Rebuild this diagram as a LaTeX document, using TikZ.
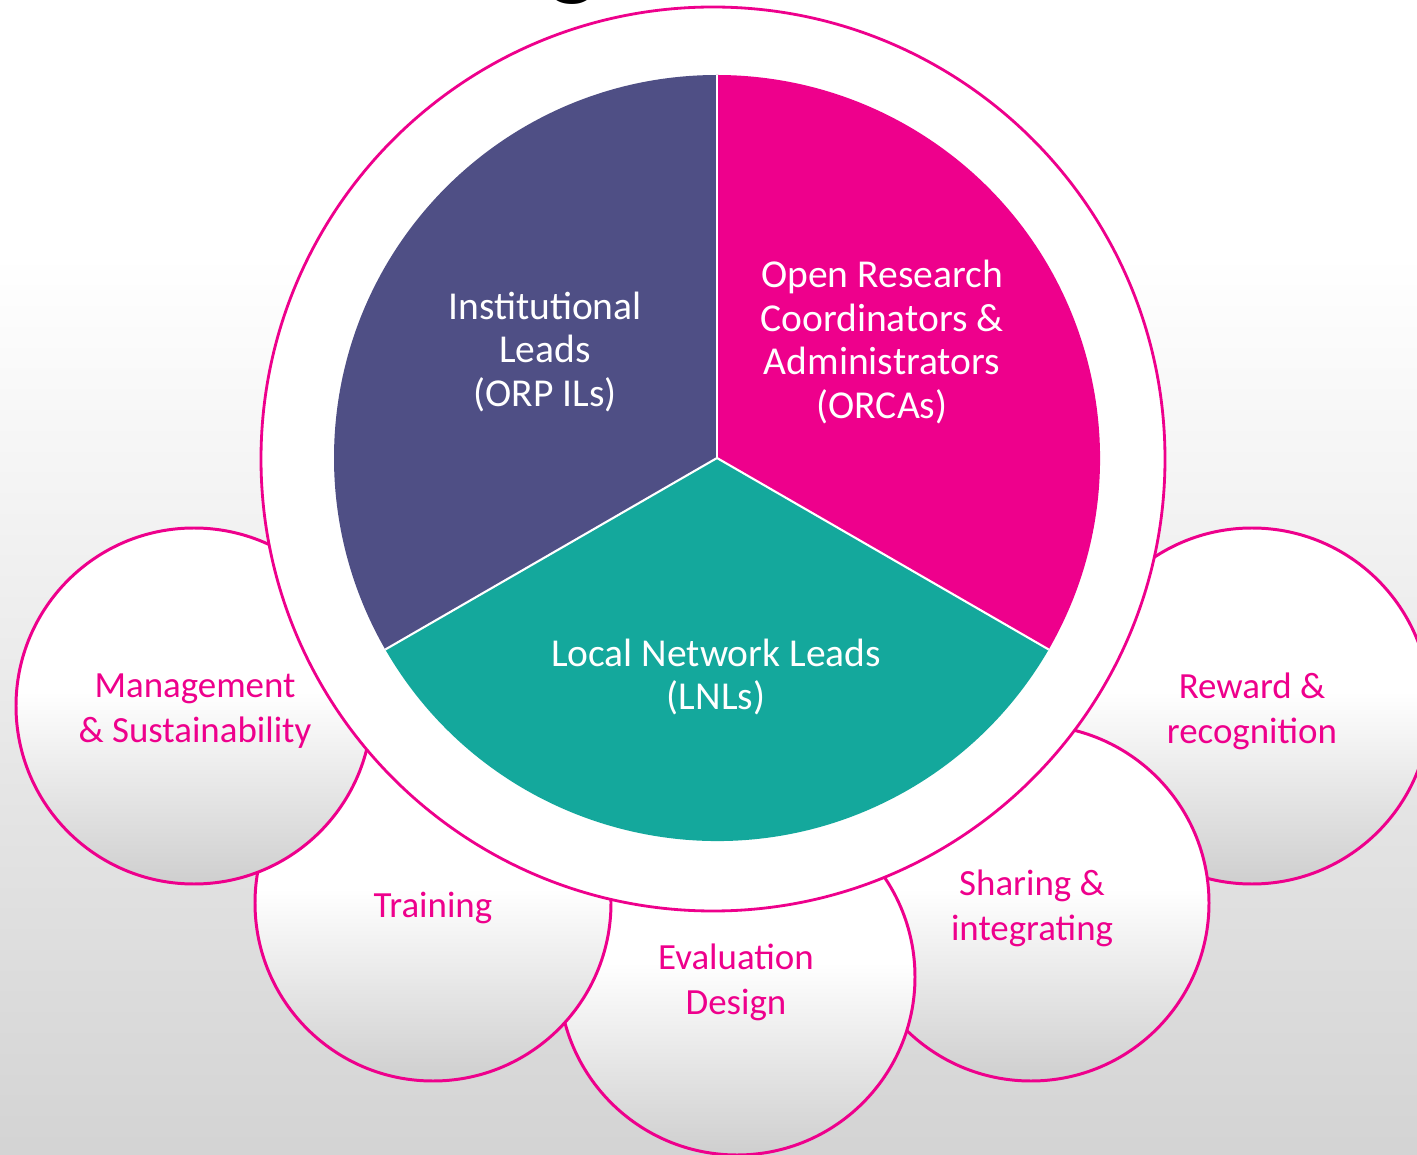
\documentclass[tikz,border=0pt]{standalone}
\usepackage{fontspec}
\setmainfont{Carlito}
\definecolor{orpink}{HTML}{EE008C}
\definecolor{orpurple}{HTML}{4F4F85}
\definecolor{orteal}{HTML}{14A89C}
\pgfdeclareverticalshading{backdrop}{100bp}{color(0bp)=(black!17); color(25bp)=(black!17); color(64bp)=(white); color(100bp)=(white)}
\pgfdeclareverticalshading{bubbleshade}{100bp}{color(0bp)=(black!19); color(25bp)=(black!19); color(52bp)=(white); color(100bp)=(white)}
\tikzset{
  bubble/.style={draw=orpink, line width=1.7pt, shading=bubbleshade},
  ring/.style={draw=orpink, line width=1.6pt, fill=white},
  divider/.style={draw=white, line width=1.2pt},
  pielabel/.style={text=white, align=center, font=\fontsize{22.5}{25}\selectfont},
  bubblelabel/.style={text=orpink, align=center, font=\fontsize{21}{25.5}\selectfont}
}
\begin{document}
\begin{tikzpicture}[x=0.02cm,y=0.02cm]
\useasboundingbox (0,0) rectangle (1417,1154);
\clip (0,0) rectangle (1417,1154);
\shade[shading=backdrop] (0,0) rectangle (1417,1154);
% title, cut off at the top
\node[anchor=base, font=\bfseries\fontsize{57}{60}\selectfont] (title) at (573,1166) {g};

% side circles, back to front
\foreach \cx/\cy in {1252/448, 1031/251, 737/177, 433/251, 194/448}{
  \path[bubble] (\cx,\cy) circle (178);
}

% outer ring
\path[ring] (713,695) circle (452);

% pie
\coordinate (hub) at (717,696);
\fill[orpurple] (hub) -- ++(90:383) arc (90:210:383) -- cycle;
\fill[orpink] (hub) -- ++(-30:383) arc (-30:90:383) -- cycle;
\fill[orteal] (hub) -- ++(210:383) arc (210:330:383) -- cycle;
\foreach \a in {90,210,330}{
  \draw[divider] (hub) -- ++(\a:383);
}

\node[pielabel] (ils) at (545,802) {Institutional\\Leads\\(ORP ILs)};
\node[pielabel] (orcas) at (882,812) {Open Research\\Coordinators \&\\Administrators\\(ORCAs)};
\node[pielabel] (lnls) at (716,477) {Local Network Leads\\(LNLs)};

\node[bubblelabel] (manage) at (195,443) {Management\\\& Sustainability};
\node[bubblelabel] (train) at (433,246) {Training};
\node[bubblelabel] (evaldesign) at (736,172) {Evaluation\\Design};
\node[bubblelabel] (share) at (1032,246) {Sharing \&\\integrating};
\node[bubblelabel] (reward) at (1252,443) {Reward \&\\recognition};
\end{tikzpicture}
\end{document}
